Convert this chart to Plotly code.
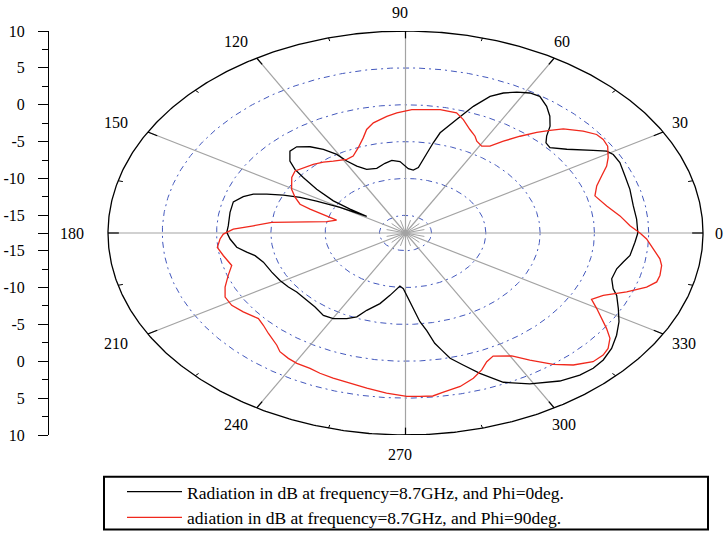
import numpy as np
import plotly.graph_objects as go

# ---------------- data ----------------
R_MIN = -17.4          # radial value at the centre
R_MAX = 10.0           # radial value at the outer ellipse

ring_values = [5, 0, -5, -10, -15]
spoke_angles = list(range(0, 360, 30))
minor_angles = list(range(15, 360, 30))
axis_ticks = [10, 5, 0, -5, -10, -15]
axis_minor = [7.5, 2.5, -2.5, -7.5, -12.5]

phi0_theta = [0, 5.1, 10.0, 16.0, 20.9, 25.8, 29.1, 30.9, 33.0, 37.4, 41.0, 43.4, 45.3, 47.4,
              50.0, 52.9, 56.3, 58.9, 61.8, 64.6, 67.2, 70.0, 73.0, 76.8, 78.2, 80.2, 82.4,
              85.2, 88.3, 93.0, 97.3, 101.3, 106.8, 112.5, 116.3, 119.0, 120.7, 123.7, 126.9,
              130.6, 133.8, 137.5, 139.7, 141.4, 144.0, 146.7, 147.6, 147.8, 150.1, 152.1,
              153.6, 155.5, 157.6, 159.4, 161.7, 165.1, 170.2, 176.5, 179.7, 182.9, 187.1,
              190.1, 192.5, 196.8, 203.3, 209.1, 214.2, 218.6, 225.1, 230.3, 235.9, 240.2,
              245.0, 248.5, 251.2, 256.2, 260.4, 263.9, 265.9, 268.5, 272.5, 275.3, 276.3,
              278.4, 280.2, 281.8, 283.6, 286.5, 289.8, 294.0, 299.2, 305.3, 309.8, 313.3,
              316.6, 320.5, 324.5, 328.5, 332.4, 336.5, 338.4, 341.9, 346.0, 348.9, 351.6,
              356.6, 360]
phi0_r = [4.0, 3.97, 3.9, 4.1, 4.24, 4.53, 4.5, 4.2, 3.2, 1.3, 0.23, 0.41, 1.08, 2.27,
          3.28, 4.15, 4.89, 4.78, 4.29, 3.62, 2.7, 0.88, -1.31, -3.44, -4.9, -6.81, -8.45,
          -8.83, -8.67, -7.7, -7.47, -7.76, -8.24, -8.05, -7.27, -6.24, -5.0, -3.77, -2.77,
          -2.0, -2.02, -2.96, -4.05, -5.35, -7.29, -9.45, -11.35, -13.18, -10.44, -8.13,
          -6.56, -5.04, -3.58, -2.43, -1.66, -0.99, -1.0, -1.05, -0.94, -1.22, -1.74,
          -2.55, -3.21, -3.73, -3.99, -4.17, -4.36, -4.58, -4.5, -4.36, -3.91, -4.02,
          -4.59, -5.17, -6.32, -7.54, -8.82, -9.8, -10.19, -9.84, -8.04, -6.19, -5.3,
          -4.0, -2.2, -1.2, 0.09, 1.28, 2.83, 4.76, 6.06, 7.2, 7.68, 7.81,
          7.67, 7.2, 6.48, 5.66, 4.72, 3.81, 3.17, 2.58, 2.65, 3.04, 3.5,
          3.77, 4.0]

phi90_theta = [0, 2.7, 6.7, 11.2, 16.1, 19.9, 23.2, 26.1, 28.7, 32.3, 34.9, 37.2, 40.2, 44.2,
               46.3, 48.5, 51.2, 54.1, 56.6, 59.2, 62.2, 64.0, 67.1, 70.9, 73.9, 79.2, 82.3,
               88.0, 92.8, 96.2, 101.2, 104.3, 106.8, 110.6, 114.8, 118.4, 124.3, 128.2,
               132.4, 136.7, 140.4, 144.3, 150.5, 154.6, 158.1, 159.8, 160.8, 162.2, 164.6,
               168.1, 171.0, 173.3, 176.0, 178.1, 180.5, 182.7, 186.4, 190.3, 195.4, 199.4,
               203.8, 207.6, 211.5, 215.6, 220.6, 223.7, 227.2, 232.1, 234.3, 237.6, 240.5,
               244.4, 247.5, 251.3, 255.0, 260.4, 265.4, 270.3, 273.5, 276.5, 279.0, 283.6,
               287.6, 290.7, 293.2, 295.8, 300.4, 303.6, 307.4, 310.8, 314.7, 317.7, 320.0,
               322.8, 325.0, 327.3, 329.8, 332.3, 335.1, 338.6, 341.7, 344.0, 346.2, 349.4,
               351.5, 354.6, 357.9, 360]
phi90_r = [4.19, 3.3, 2.49, 1.49, 0.76, 1.33, 2.25, 3.23, 3.88, 4.63, 4.8, 4.7, 4.02, 2.87,
           1.87, 0.84, -0.56, -2.02, -3.28, -3.69, -3.32, -2.79, -2.16, -1.12, -0.44, -0.37,
           -0.52, -0.66, -1.09, -1.48, -2.17, -2.91, -3.92, -5.04, -5.91, -6.04, -5.59, -5.16,
           -4.8, -4.47, -4.2, -4.5, -5.35, -6.15, -6.93, -8.03, -8.9, -9.78, -10.82,
           -9.98, -7.57, -5.0, -3.35, -1.53, -0.62, -0.3, 0.04, -0.34, -0.8, -0.09,
           0.76, 1.35, 1.37, 0.98, 0.44, 0.71, 1.18, 1.89, 2.42, 2.74, 2.92,
           2.95, 3.19, 3.39, 3.55, 3.95, 4.4, 4.77, 4.81, 4.85, 4.5, 4.02,
           3.27, 2.46, 1.59, 1.14, 1.94, 3.29, 5.02, 6.25, 7.16, 7.21, 6.96,
           6.24, 5.21, 4.08, 2.98, 1.95, 2.68, 4.48, 5.99, 6.67, 6.73, 6.6,
           6.29, 5.52, 4.82, 4.19]

series_names = ["Radiation in dB at frequency=8.7GHz, and Phi=0deg.",
                "adiation in dB at frequency=8.7GHz, and Phi=90deg."]

# ---------------- helpers ----------------
SPAN = R_MAX - R_MIN


def to_xy(theta_deg, r):
    t = np.radians(np.asarray(theta_deg, dtype=float))
    rho = np.clip(np.asarray(r, dtype=float) - R_MIN, 0, None)
    return rho * np.cos(t), rho * np.sin(t)


def segments(pairs):
    xs, ys = [], []
    for (t0, r0), (t1, r1) in pairs:
        x, y = to_xy([t0, t1], [r0, r1])
        xs += list(x) + [None]
        ys += list(y) + [None]
    return xs, ys


FONT = "Liberation Serif"
fig = go.Figure()

# grid rings (dash-dot blue)
full = np.linspace(0, 360, 721)
for rv in ring_values:
    x, y = to_xy(full, np.full_like(full, rv))
    fig.add_trace(go.Scatter(x=x, y=y, mode="lines", showlegend=False, hoverinfo="skip",
                             line=dict(color="#4358bd", width=1, dash="6px,4px,2px,4px")))

# spokes
sx, sy = segments([((a, R_MIN), (a, R_MAX)) for a in spoke_angles])
fig.add_trace(go.Scatter(x=sx, y=sy, mode="lines", showlegend=False, hoverinfo="skip",
                         line=dict(color="#a3a3a3", width=1.2)))
cx, cy = segments([((a, R_MIN), (a, -15.6)) for a in minor_angles])
fig.add_trace(go.Scatter(x=cx, y=cy, mode="lines", showlegend=False, hoverinfo="skip",
                         line=dict(color="#a3a3a3", width=1)))

# outer ellipse
x, y = to_xy(full, np.full_like(full, R_MAX))
fig.add_trace(go.Scatter(x=x, y=y, mode="lines", showlegend=False, hoverinfo="skip",
                         line=dict(color="black", width=1.3)))
# angular ticks
tx, ty = segments([((a, R_MAX - 1.0), (a, R_MAX)) for a in spoke_angles])
fig.add_trace(go.Scatter(x=tx, y=ty, mode="lines", showlegend=False, hoverinfo="skip",
                         line=dict(color="black", width=1.2)))
mx, my = segments([((a, R_MAX - 0.45), (a, R_MAX)) for a in minor_angles])
fig.add_trace(go.Scatter(x=mx, y=my, mode="lines", showlegend=False, hoverinfo="skip",
                         line=dict(color="black", width=1)))

# data series
x0, y0 = to_xy(phi0_theta, phi0_r)
fig.add_trace(go.Scatter(x=x0, y=y0, mode="lines", name=series_names[0],
                         line=dict(color="black", width=1.3)))
x1, y1 = to_xy(phi90_theta, phi90_r)
fig.add_trace(go.Scatter(x=x1, y=y1, mode="lines", name=series_names[1],
                         line=dict(color="#f0281c", width=1.3)))

# angle labels
for a in spoke_angles:
    t = np.radians(a)
    txt = str(a)
    fig.add_annotation(x=SPAN * np.cos(t), y=SPAN * np.sin(t), text=txt, showarrow=False,
                       xshift=(16 + 5 * len(txt)) * np.cos(t) - 5.5, yshift=19 * np.sin(t),
                       font=dict(family=FONT, size=16, color="black"))

# layout geometry (pixels)
L, T, W, H = 49, 31, 726, 536
PLOT_H = 406
CX_PX = 405.5
AX_PX = 297.5
kx = AX_PX / SPAN
xmin = -(CX_PX - L) / kx
xmax = (W - CX_PX) / kx

ytickvals = [v - R_MIN for v in axis_ticks] + [0] + [-(v - R_MIN) for v in axis_ticks]
yticktext = [str(v) for v in axis_ticks] + [""] + [str(v) for v in axis_ticks]
yminor = [m - R_MIN for m in axis_minor] + [-(m - R_MIN) for m in axis_minor]

fig.update_layout(
    width=W, height=H,
    margin=dict(l=L, r=0, t=T, b=H - T - PLOT_H),
    paper_bgcolor="white", plot_bgcolor="white",
    font=dict(family=FONT, size=16, color="black"),
    xaxis=dict(visible=False, range=[xmin, xmax], fixedrange=True),
    yaxis=dict(range=[-SPAN, SPAN], fixedrange=True, showgrid=False, zeroline=False,
               showline=True, linecolor="black", linewidth=1,
               ticks="outside", ticklen=10, tickwidth=1, tickcolor="black",
               tickmode="array", tickvals=ytickvals, ticktext=yticktext,
               ticklabelstandoff=10,
               tickfont=dict(family=FONT, size=16, color="black"),
               minor=dict(tickmode="array", tickvals=yminor, ticks="outside", ticklen=6,
                          tickcolor="black", tickwidth=1)),
    showlegend=True,
    legend=dict(x=(122 - L) / (W - L), y=(T + PLOT_H - 476) / PLOT_H,
                xanchor="left", yanchor="top", bgcolor="rgba(0,0,0,0)", borderwidth=0,
                itemwidth=55, font=dict(family=FONT, size=17.5, color="black")),
    shapes=[dict(type="rect", xref="paper", yref="paper",
                 x0=(104 - L) / (W - L), x1=(708 - L) / (W - L),
                 y0=(T + PLOT_H - 479) / PLOT_H, y1=(T + PLOT_H - 532) / PLOT_H,
                 line=dict(color="black", width=2), fillcolor="rgba(0,0,0,0)")],
)

fig.write_html("out.html")
